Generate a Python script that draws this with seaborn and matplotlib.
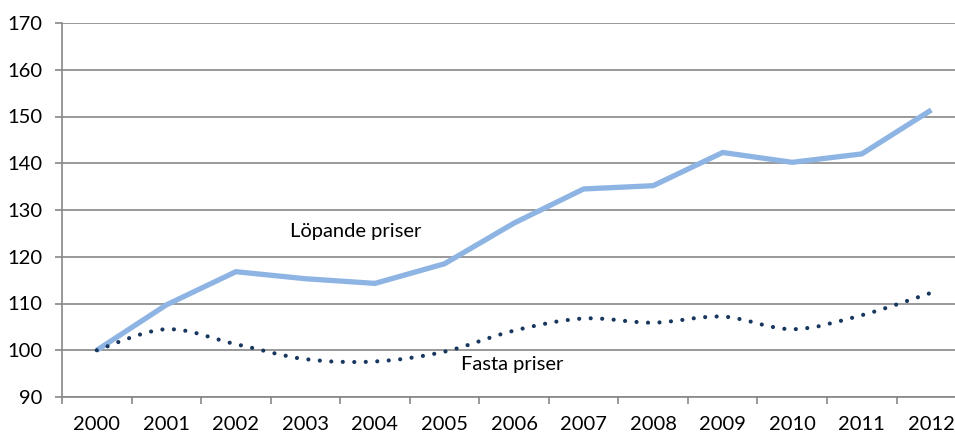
import numpy as np
import pandas as pd
import seaborn as sns
import matplotlib
matplotlib.use("Agg")
import matplotlib.pyplot as plt
from matplotlib.path import Path
from matplotlib.patches import PathPatch

years = ["2000", "2001", "2002", "2003", "2004", "2005", "2006",
         "2007", "2008", "2009", "2010", "2011", "2012"]
lopande = [100.0, 109.7, 116.8, 115.3, 114.3, 118.5, 127.2,
           134.5, 135.2, 142.3, 140.2, 142.0, 151.4]
fasta = [100.0, 104.5, 101.3, 98.1, 97.6, 99.7, 104.2,
         106.8, 105.9, 107.2, 104.5, 107.5, 112.3]
yticks = [90, 100, 110, 120, 130, 140, 150, 160, 170]

sns.set_theme(style="white")
plt.rcParams["font.family"] = ["Lato", "DejaVu Sans"]

fig = plt.figure(figsize=(9.55, 4.32), dpi=100)
ax = fig.add_axes([62 / 955, 1 - 397 / 432, 1 - 62 / 955, (397 - 23) / 432])

df = pd.DataFrame({"x": np.arange(len(years)), "lop": lopande, "fas": fasta})

grid_c = "#878787"
for v in yticks:
    ax.axhline(v, color=grid_c, lw=1.2, zorder=1)

sns.lineplot(data=df, x="x", y="lop", ax=ax, color="#8EB4E3", lw=3.8,
             solid_capstyle="butt", solid_joinstyle="miter", zorder=3)

# Excel-style smoothed line for "Fasta priser" (cubic Bezier through the data points)
xs = df["x"].to_numpy(dtype=float)
ys = df["fas"].to_numpy(dtype=float)
n = len(xs)
verts = [(xs[0], ys[0])]
codes = [Path.MOVETO]
for i in range(n - 1):
    p0 = np.array([xs[max(i - 1, 0)], ys[max(i - 1, 0)]])
    p1 = np.array([xs[i], ys[i]])
    p2 = np.array([xs[i + 1], ys[i + 1]])
    p3 = np.array([xs[min(i + 2, n - 1)], ys[min(i + 2, n - 1)]])
    c1 = p1 + (p2 - p0) / 6.0
    c2 = p2 - (p3 - p1) / 6.0
    verts += [tuple(c1), tuple(c2), tuple(p2)]
    codes += [Path.CURVE4] * 3
patch = PathPatch(Path(verts, codes), facecolor="none", edgecolor="#17375E",
                  lw=3.0, linestyle=(0, (0.01, 2.75)), capstyle="round", zorder=4)
ax.add_patch(patch)

ax.set_xlim(-0.5, 12.34)
ax.set_ylim(90, 170)
ax.set_yticks(yticks)
ax.set_yticklabels([str(v) for v in yticks])
ax.set_xticks(np.arange(len(years)))
ax.set_xticklabels(years)
ax.set_xticks(np.arange(len(years)) - 0.5, minor=True)
ax.set_xlabel("")
ax.set_ylabel("")

for s in ["top", "right"]:
    ax.spines[s].set_visible(False)
for s in ["left", "bottom"]:
    ax.spines[s].set_color(grid_c)
    ax.spines[s].set_linewidth(1.2)

fs = 14.5
ax.tick_params(axis="x", which="major", length=0, pad=14, labelsize=fs, labelcolor="black")
ax.tick_params(axis="x", which="minor", length=5, width=1.2, color=grid_c, direction="out", bottom=True)
ax.tick_params(axis="y", length=5, width=1.2, color=grid_c, direction="out", left=True,
               pad=9, labelsize=fs, labelcolor="black")

ax.text(3.72, 124.2, "Löpande priser", fontsize=fs, ha="center", va="baseline", color="black")
ax.text(5.98, 95.8, "Fasta priser", fontsize=fs, ha="center", va="baseline", color="black")

fig.savefig("out.png", dpi=100)
